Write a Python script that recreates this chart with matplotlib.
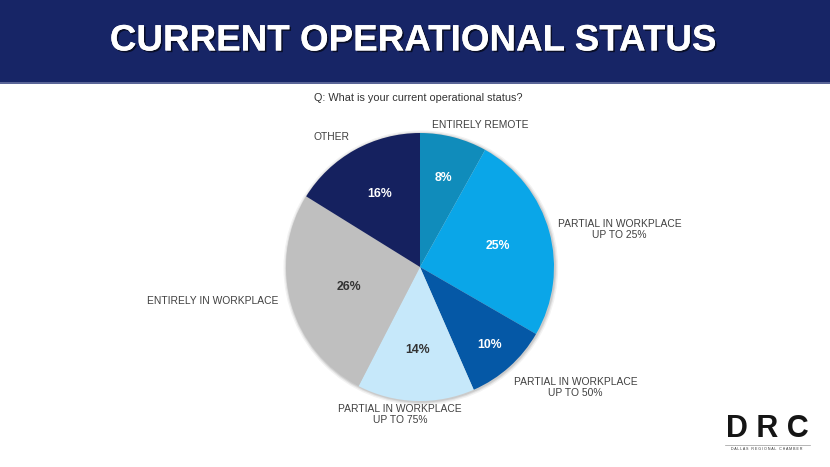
import numpy as np
import matplotlib.pyplot as plt
import matplotlib.patheffects as pe
from matplotlib.patches import Rectangle, Circle

# data
categories = ['ENTIRELY REMOTE', 'PARTIAL IN WORKPLACE\nUP TO 25%', 'PARTIAL IN WORKPLACE\nUP TO 50%',
              'PARTIAL IN WORKPLACE\nUP TO 75%', 'ENTIRELY IN WORKPLACE', 'OTHER']
shares = [8, 25, 10, 14, 26, 16]

colors = ['#108cbb', '#0aa6e8', '#0558a6', '#c6e8fa', '#bfbfbf', '#15215f']
pct_colors = ['white', 'white', 'white', '#333333', '#333333', 'white']
pct_dist = [0.69, 0.60, 0.78, 0.62, 0.55, 0.62]
label_pos = [(0.45, 1.06), (1.49, 0.28), (1.16, -0.90), (-0.15, -1.10), (-1.55, -0.25), (-0.66, 0.97)]

W, H = 830, 467
fig = plt.figure(figsize=(W / 100, H / 100), dpi=100)
fig.patch.set_facecolor('white')

# header band
bar_h = 84
fig.patches.append(Rectangle((0, 1 - bar_h / H), 1, bar_h / H, transform=fig.transFigure,
                             facecolor='#172566', edgecolor='none', zorder=0))
fig.patches.append(Rectangle((0, 1 - bar_h / H), 1, 1.5 / H, transform=fig.transFigure,
                             facecolor='#5a6597', edgecolor='none', zorder=1))
fig.text(0.497, 1 - 41 / H, 'CURRENT OPERATIONAL STATUS', ha='center', va='center',
         fontsize=26.5, fontweight='bold', color='white', family='Liberation Sans',
         path_effects=[pe.withSimplePatchShadow(offset=(1.2, -1.2), shadow_rgbFace='black', alpha=0.6),
                       pe.Normal()])
fig.text(418 / W, 1 - 98 / H, 'Q: What is your current operational status?', ha='center', va='center',
         fontsize=7.8, color='#333333', family='Liberation Sans')

# pie axes: 1 data unit = R pixels, centred at (cx, cy)
cx, cy, R = 420, 267, 134
half_w, half_h = 300, 178
ax = fig.add_axes([(cx - half_w) / W, (H - cy - half_h) / H, 2 * half_w / W, 2 * half_h / H])

# faint soft shadow around the pie
for r, a in [(1.025, 0.05), (1.015, 0.07), (1.007, 0.09)]:
    ax.add_patch(Circle((0.006, -0.006), r, facecolor='#000000', alpha=a, edgecolor='none', zorder=0))

wedges, _ = ax.pie(shares, colors=colors, startangle=90, counterclock=False, radius=1,
                   wedgeprops=dict(linewidth=0, zorder=1))
ax.set_xlim(-half_w / R, half_w / R)
ax.set_ylim(-half_h / R, half_h / R)
ax.set_aspect('equal')
ax.axis('off')

for w, val, d, c in zip(wedges, shares, pct_dist, pct_colors):
    ang = np.deg2rad((w.theta1 + w.theta2) / 2)
    ax.text(d * np.cos(ang), d * np.sin(ang), f'{val}%', ha='center', va='center',
            fontsize=8.8, fontweight='bold', color=c, family='Liberation Sans', zorder=3)

for lab, (x, y) in zip(categories, label_pos):
    ax.text(x, y, lab, ha='center', va='center', fontsize=7.4, color='#404040',
            family='Liberation Sans', linespacing=1.05)

# DRC logo
fig.text(767 / W, 1 - 429 / H, 'D R C', ha='center', va='center', fontsize=22,
         fontweight='heavy', color='#151515', family='Liberation Sans')
fig.add_artist(plt.Line2D([725 / W, 810 / W], [1 - 445 / H, 1 - 445 / H], color='#999999', lw=0.5))
fig.text(767 / W, 1 - 449 / H, 'D A L L A S   R E G I O N A L   C H A M B E R', ha='center', va='center',
         fontsize=2.6, color='#333333', family='Liberation Sans')

fig.savefig('out.png', dpi=100)
